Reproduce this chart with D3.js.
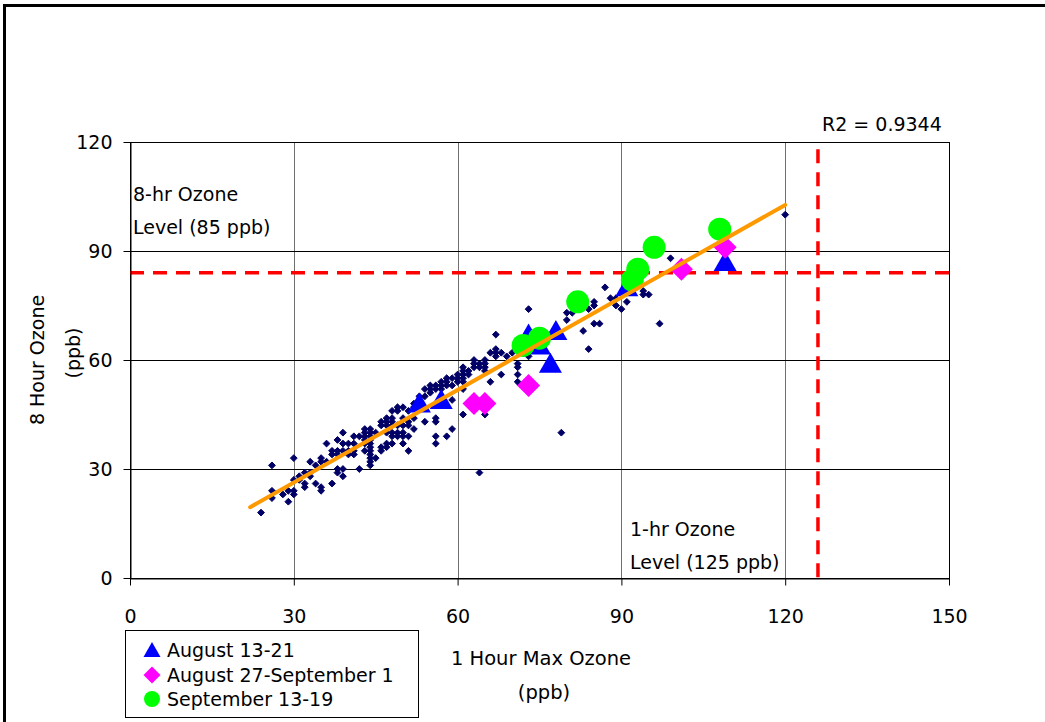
<!DOCTYPE html>
<html><head><meta charset="utf-8">
<script src="https://cdn.jsdelivr.net/npm/d3@7"></script>
<style>body{margin:0;background:#fff}svg{display:block}text{font-family:"DejaVu Sans",sans-serif;fill:#000}</style>
</head><body><svg id="c" width="1045" height="722"></svg>
<script>
// ---- data ----
const xTicks = [0, 30, 60, 90, 120, 150];
const yTicks = [0, 30, 60, 90, 120];
const allDays = [
[24,18],[26,31],[26,24],[26,22],[28,23],[29,24],[29,21],[30,33],[30,27],[30,24],[30,23],
[31,28],[31,27],[32,29],[32,26],[32,25],[33,32],[33,29],[33,28],[34,31],[34,26],
[35,33],[35,32],[35,25],[35,24],[36,37],[36,32],[37,35],[37,34],[37,26],
[38,38],[38,35],[38,34],[38,30],[38,29],[39,40],[39,37],[39,35],[39,30],[39,28],
[40,37],[40,35],[40,34],[41,39],[41,37],[41,35],[41,34],[42,39],[42,30],
[43,41],[43,40],[43,39],[43,38],[43,37],[43,35],
[44,41],[44,40],[44,39],[44,38],[44,37],[44,36],[44,35],[44,34],[44,33],[44,32],[44,31],
[45,40],[45,33],[46,43],[46,42],[46,36],[46,35],[47,44],[47,43],[47,42],[47,40],[47,37],[47,36],
[48,46],[48,44],[48,43],[48,42],[48,40],[48,39],[48,37],[49,47],[49,46],[49,42],[49,40],[49,39],
[50,47],[50,44],[50,42],[50,40],[50,39],[50,37],[51,46],[51,43],[51,42],[51,39],[51,35],
[52,48],[52,47],[52,44],[52,41],[53,50],[53,49],[54,52],[54,50],[54,43],[55,53],[55,52],[55,51],
[56,53],[56,52],[56,44],[56,43],[56,39],[56,37],[57,54],[57,53],[57,52],
[58,55],[58,54],[58,53],[58,39],[59,55],[59,53],[59,49],[59,41],[60,56],[60,55],[60,54],
[61,58],[61,57],[61,56],[61,55],[61,54],[61,52],[61,45],[62,57],[62,56],
[63,60],[63,59],[63,58],[64,59],[64,58],[64,29],[65,60],[65,59],[65,58],[65,57],[65,45],
[66,62],[66,54],[67,67],[67,63],[67,62],[67,61],[68,62],[68,56],[69,61],[70,62],
[71,59],[71,58],[71,56],[71,54],[73,74],[73,61],[79,40],[80,73],[80,71],[81,73],[83,68],
[84,74],[84,63],[85,76],[85,75],[85,70],[86,70],[87,80],[88,77],[89,77],[89,75],[90,74],
[91,76],[94,79],[94,78],[95,78],[97,70],[99,88],[120,100]
];
const aug1321 = [[53,48],[57,49],[73,67],[75,64],[78,68],[77,59],[91,80],[109,87]];
const aug27sep1 = [[63,48],[65,48],[73,53],[101,85],[109,91]];
const sep1319 = [[72,64],[75,66],[82,76],[92,82],[93,85],[96,91],[108,96]];
const trendX = [22, 120];
const trendSlope = 0.849, trendIntercept = 0.8;
const level8hr = 84, level1hr = 126;
const seriesNames = ["August 13-21", "August 27-September 1", "September 13-19"];

// ---- chart ----
const svg = d3.select("#c");
const x = d3.scaleLinear().domain([0,150]).range([130,949]);
const y = d3.scaleLinear().domain([0,120]).range([578,142]);

svg.append("rect").attr("x",4.5).attr("y",5.5).attr("width",1100).attr("height",800)
  .attr("fill","none").attr("stroke","#000").attr("stroke-width",3);

const g = svg.append("g");
g.selectAll(".vg").data(xTicks.slice(1,-1)).join("line")
  .attr("x1",d=>Math.round(x(d))+0.5).attr("x2",d=>Math.round(x(d))+0.5)
  .attr("y1",y(120)).attr("y2",y(0)).attr("stroke","#707070").attr("stroke-width",1);
g.selectAll(".hg").data(yTicks.slice(1,-1)).join("line")
  .attr("y1",d=>Math.round(y(d))+0.5).attr("y2",d=>Math.round(y(d))+0.5)
  .attr("x1",x(0)).attr("x2",x(150)).attr("stroke","#000").attr("stroke-width",1);
g.append("rect").attr("x",x(0)+0.5).attr("y",y(120)+0.5).attr("width",x(150)-x(0)).attr("height",y(0)-y(120))
  .attr("fill","none").attr("stroke","#000");

const xa = svg.append("g").attr("transform",`translate(0,${y(0)+0.5})`)
  .call(d3.axisBottom(x).tickValues(xTicks).tickSize(7).tickPadding(24).tickSizeOuter(0));
const ya = svg.append("g").attr("transform",`translate(${x(0)+0.5},0)`)
  .call(d3.axisLeft(y).tickValues(yTicks).tickSize(7).tickPadding(11).tickSizeOuter(0));
[xa,ya].forEach(a=>{a.select(".domain").attr("stroke","#000");
  a.selectAll(".tick line").attr("stroke","#000");
  a.selectAll(".tick text").attr("font-size",19).attr("font-family","DejaVu Sans").attr("fill","#000");});

const dotShape = "M0,-3.4L3.4,0L0,3.4L-3.4,0Z";
g.selectAll(".dot").data(allDays).join("path").attr("d",dotShape)
  .attr("transform",d=>`translate(${x(d[0])},${y(d[1])})`)
  .attr("fill","#000066").attr("stroke","#000066").attr("stroke-width",1).attr("stroke-linejoin","round");

g.append("line").attr("x1",x(0)).attr("x2",x(150)).attr("y1",y(level8hr)).attr("y2",y(level8hr))
  .attr("stroke","#ff0000").attr("stroke-width",3.5).attr("stroke-dasharray","14,9");
g.append("line").attr("x1",x(level1hr)).attr("x2",x(level1hr)).attr("y1",y(118)).attr("y2",y(0))
  .attr("stroke","#ff0000").attr("stroke-width",3.5).attr("stroke-dasharray","14,9");

const tri = "M0,-11L11.5,9L-11.5,9Z", dia = "M0,-11.5L11.5,0L0,11.5L-11.5,0Z";
g.selectAll(".tri").data(aug1321).join("path").attr("d",tri)
  .attr("transform",d=>`translate(${x(d[0])},${y(d[1])})`).attr("fill","#0000ff");
g.selectAll(".dia").data(aug27sep1).join("path").attr("d",dia)
  .attr("transform",d=>`translate(${x(d[0])},${y(d[1])})`).attr("fill","#ff00ff");
g.selectAll(".cir").data(sep1319).join("circle")
  .attr("cx",d=>x(d[0])).attr("cy",d=>y(d[1])).attr("r",11.5).attr("fill","#00ff00");

g.append("line").attr("x1",x(trendX[0])).attr("y1",y(trendSlope*trendX[0]+trendIntercept))
  .attr("x2",x(trendX[1])).attr("y2",y(trendSlope*trendX[1]+trendIntercept))
  .attr("stroke","#ff9900").attr("stroke-width",4).attr("stroke-linecap","round");

const txt = (t,xx,yy,anchor="start",size=19)=>svg.append("text").attr("x",xx).attr("y",yy)
  .attr("text-anchor",anchor).attr("font-size",size).text(t);
txt("8-hr Ozone",133,201); txt("Level (85 ppb)",133,234);
txt("1-hr Ozone",630,536); txt("Level (125 ppb)",630,569);
txt("R2 = 0.9344",822,131,"start",19);
txt("1 Hour Max Ozone",541,665,"middle",19.5); txt("(ppb)",544,699,"middle",19.5);
svg.append("text").attr("transform","translate(44,360) rotate(-90)").attr("text-anchor","middle")
  .attr("font-size",19).text("8 Hour Ozone");
svg.append("text").attr("transform","translate(80,353) rotate(-90)").attr("text-anchor","middle")
  .attr("font-size",19).text("(ppb)");

const lg = svg.append("g");
lg.append("rect").attr("x",125.5).attr("y",630.5).attr("width",293).attr("height",87)
  .attr("fill","#fff").attr("stroke","#000");
const ly = [650, 675, 699];
const shapes = ["M0,-8L8.5,7L-8.5,7Z","M0,-8.5L8.5,0L0,8.5L-8.5,0Z",null];
const cols = ["#0000ff","#ff00ff","#00ff00"];
seriesNames.forEach((n,i)=>{
  if (shapes[i]) lg.append("path").attr("d",shapes[i]).attr("transform",`translate(152,${ly[i]})`).attr("fill",cols[i]);
  else lg.append("circle").attr("cx",152).attr("cy",ly[i]).attr("r",8).attr("fill",cols[i]);
  lg.append("text").attr("x",167).attr("y",ly[i]+7).attr("font-size",19).text(n);
});
</script></body></html>
